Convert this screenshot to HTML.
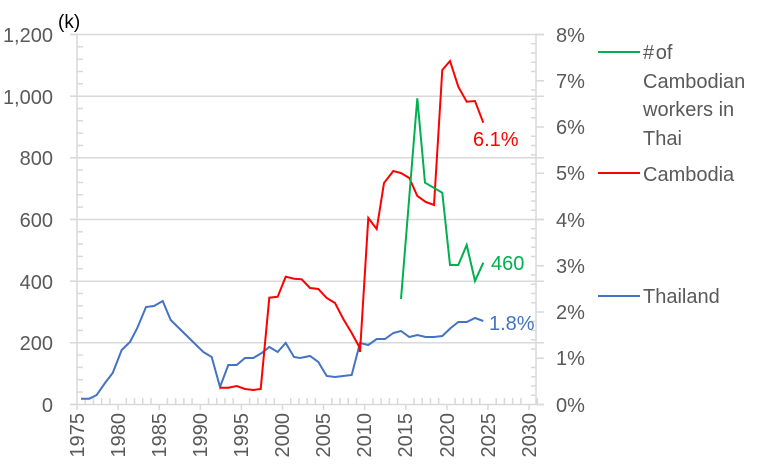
<!DOCTYPE html>
<html><head><meta charset="utf-8"><style>
html,body{margin:0;padding:0;background:#fff;}
svg{display:block;font-family:"Liberation Sans",sans-serif;}
</style></head><body>
<svg width="769" height="469" viewBox="0 0 769 469" xmlns="http://www.w3.org/2000/svg">
<g stroke="#d9d9d9" stroke-width="1.5">
<line x1="70" y1="34.5" x2="544" y2="34.5"/>
<line x1="70" y1="96.2" x2="544" y2="96.2"/>
<line x1="70" y1="157.8" x2="544" y2="157.8"/>
<line x1="70" y1="219.5" x2="544" y2="219.5"/>
<line x1="70" y1="281.2" x2="544" y2="281.2"/>
<line x1="70" y1="342.8" x2="544" y2="342.8"/>
<line x1="70" y1="404.5" x2="544" y2="404.5"/>
<line x1="77" y1="34.5" x2="77" y2="404.5"/>
<line x1="536" y1="34.5" x2="536" y2="404.5"/>
</g>
<g id="ticks" stroke="#d9d9d9" stroke-width="1.5"></g>
<g fill="#595959" font-size="20" text-anchor="end">
<text x="53" y="42">1,200</text>
<text x="53" y="104">1,000</text>
<text x="53" y="165">800</text>
<text x="53" y="227">600</text>
<text x="53" y="289">400</text>
<text x="53" y="350">200</text>
<text x="53" y="412">0</text>
</g>
<text x="58" y="28" font-size="19" fill="#000">(k)</text>
<g fill="#595959" font-size="20">
<text x="556" y="42">8%</text>
<text x="556" y="88">7%</text>
<text x="556" y="134">6%</text>
<text x="556" y="180">5%</text>
<text x="556" y="227">4%</text>
<text x="556" y="273">3%</text>
<text x="556" y="319">2%</text>
<text x="556" y="365">1%</text>
<text x="556" y="412">0%</text>
</g>
<g fill="#595959" font-size="20" text-anchor="end">
<text transform="translate(84,413) rotate(-90)">1975</text>
<text transform="translate(125,413) rotate(-90)">1980</text>
<text transform="translate(166,413) rotate(-90)">1985</text>
<text transform="translate(207,413) rotate(-90)">1990</text>
<text transform="translate(248,413) rotate(-90)">1995</text>
<text transform="translate(289,413) rotate(-90)">2000</text>
<text transform="translate(330,413) rotate(-90)">2005</text>
<text transform="translate(371,413) rotate(-90)">2010</text>
<text transform="translate(412,413) rotate(-90)">2015</text>
<text transform="translate(454,413) rotate(-90)">2020</text>
<text transform="translate(495,413) rotate(-90)">2025</text>
<text transform="translate(536,413) rotate(-90)">2030</text>
</g>
<polyline fill="none" stroke="#4472c4" stroke-width="2" points="81,398.7 89.3,398.7 96.7,395 105,383 112.7,373 121.7,350 130,342 137.3,328 146,307 154,306 162.7,301 170.7,320 187,336 203.3,352 211.7,357 220,387 228.3,365 236.7,365 245,358 253.3,358 261.7,353 269.3,347 277.7,352 285.7,343 294,357 300,358 310,356 318.3,362 326.7,376 335,377 343.3,376 351.7,375 360,343 368.3,345 376.7,339 385,339 393.3,333 401,331 409.3,337 417.3,335 425.7,337 434,337 442.3,336 450.7,328 458.3,322 466.7,322 475,318 483.3,321"/>
<polyline fill="none" stroke="#ff0000" stroke-width="2" points="220,387.7 228.3,387.7 236.7,386 245,389 253.3,390 260.7,389 269.3,297.7 277.7,296.7 285.7,276.7 294,278.7 301.7,279.3 310,288 318.3,289 326.7,298 335,303 343.3,319 351.7,333 359.3,347 360,352 368.3,218 376.7,229 384,183 393.3,171 401,173 409.3,178 417.3,196 425.7,202 434,205 442.3,70 450,61 458.3,86.7 466.7,101.7 475,101 483.3,122.7"/>
<polyline fill="none" stroke="#00b050" stroke-width="2" points="401,299 417.3,98.3 425,182.7 442.3,192.7 450,265 458.3,265 466.7,245 475,281 483.3,262.7"/>
<text x="473" y="146" font-size="20" fill="#ff0000">6.1%</text>
<text x="491" y="270" font-size="20" fill="#00b050">460</text>
<text x="489" y="330" font-size="20" fill="#4472c4">1.8%</text>
<g stroke-width="2">
<line x1="598" y1="52" x2="640" y2="52" stroke="#00b050"/>
<line x1="598" y1="173" x2="640" y2="173" stroke="#ff0000"/>
<line x1="598" y1="296" x2="640" y2="296" stroke="#4472c4"/>
</g>
<g fill="#595959" font-size="20">
<text x="643" y="59">#&#8202;of</text>
<text x="643" y="88">Cambodian</text>
<text x="643" y="116">workers in</text>
<text x="643" y="145">Thai</text>
<text x="643" y="181">Cambodia</text>
<text x="643" y="303">Thailand</text>
</g>
</svg>
<script>
var g=document.getElementById('ticks'),s='';
for(var i=0;i<=30;i++){var y=34.5+i*12.33;s+='<line x1="77" y1="'+y+'" x2="'+(i%5==0?70:83)+'" y2="'+y+'"/>';}
for(var i=0;i<=40;i++){var y=34.5+i*9.25;s+='<line x1="'+(i%5==0?544:531)+'" y1="'+y+'" x2="536" y2="'+y+'"/>';}
for(var i=0;i<=56;i++){var x=77+i*8.22;s+='<line x1="'+x+'" y1="'+(i%5==0?410:398)+'" x2="'+x+'" y2="404.5"/>';}
g.innerHTML=s;
</script>
</body></html>
